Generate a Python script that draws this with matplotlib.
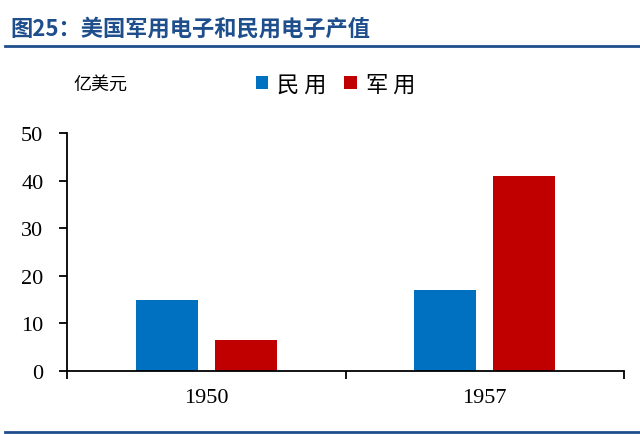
import numpy as np
import matplotlib
matplotlib.use("Agg")
from matplotlib import pyplot as plt
from matplotlib.lines import Line2D

plt.rcParams['font.family'] = ['Noto Sans CJK SC', 'DejaVu Sans']

years = ["1950", "1957"]
civil = [15, 17]      # 民用
military = [6.5, 41]  # 军用
y_ticks = [0, 10, 20, 30, 40, 50]

BLUE = "#0070C0"
RED = "#C00000"
TITLE_BLUE = "#1F4E8C"
SERIF = "Liberation Serif"

fig = plt.figure(figsize=(6.4, 4.35), dpi=100)
ax = fig.add_axes([67 / 640, 1 - 372 / 435, 557 / 640, 238 / 435])

x = np.arange(len(years)) + 0.5
w = 0.222
off = 0.142
ax.bar(x - off, civil, w, color=BLUE, label="民 用")
ax.bar(x + off, military, w, color=RED, label="军 用")

ax.set_xlim(0, len(years))
ax.set_ylim(0, 50)
ax.set_yticks(y_ticks)
ax.set_yticklabels([str(t) for t in y_ticks], fontfamily=SERIF, fontsize=16)
ax.set_xticks(np.arange(len(years) + 1))
ax.set_xticklabels([])
ax.set_xticks(x, minor=True)
ax.set_xticklabels(years, minor=True, fontfamily=SERIF, fontsize=16)
ax.tick_params(axis="x", which="major", direction="out", length=6, width=1.3)
ax.tick_params(axis="x", which="minor", length=0, pad=12)
ax.tick_params(axis="y", direction="out", length=6, width=1.3, pad=11)

for s in ["top", "right"]:
    ax.spines[s].set_visible(False)
for s in ["left", "bottom"]:
    ax.spines[s].set_linewidth(1.3)

ax.legend(loc="center left", bbox_to_anchor=(256 / 640, 1 - 85 / 435),
          bbox_transform=fig.transFigure, ncol=2, frameon=False,
          fontsize=16, handlelength=0.55, handleheight=0.55,
          handletextpad=0.4, columnspacing=0.8, borderpad=0,
          borderaxespad=0)

fig.text(73 / 640, 1 - 85 / 435, "亿美元", fontsize=13, va="center", ha="left")

fig.text(10 / 640, 1 - 29 / 435, "图25：美国军用电子和民用电子产值", fontsize=16,
         fontweight="bold", color=TITLE_BLUE, va="center", ha="left")
fig.add_artist(Line2D([5 / 640, 1], [1 - 47 / 435] * 2, color=TITLE_BLUE, lw=2,
                      transform=fig.transFigure))
fig.add_artist(Line2D([5 / 640, 1], [1 - 433 / 435] * 2, color=TITLE_BLUE, lw=2,
                      transform=fig.transFigure))

fig.savefig("out.png", dpi=100)
